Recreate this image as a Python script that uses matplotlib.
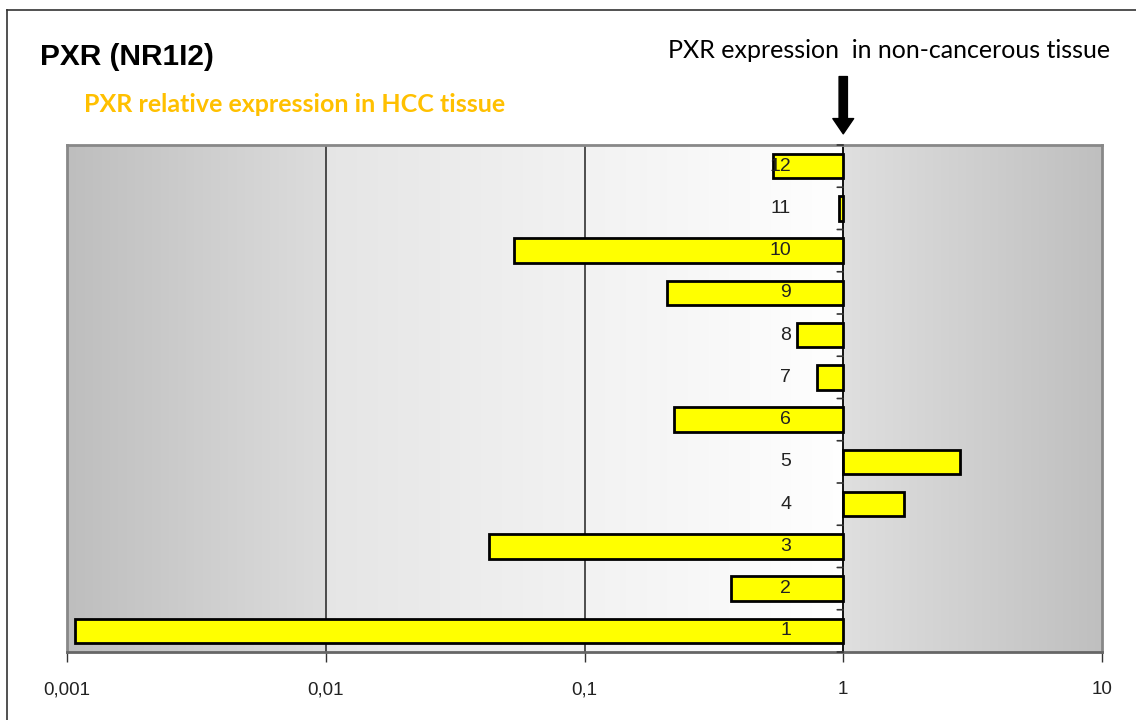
import numpy as np
import matplotlib
matplotlib.use("Agg")
import matplotlib.pyplot as plt

# Data
samples = ["1", "2", "3", "4", "5", "6", "7", "8", "9", "10", "11", "12"]
rel_expr = [0.00107, 0.369, 0.0428, 1.72, 2.83, 0.222, 0.794, 0.664, 0.209, 0.0535, 0.965, 0.536]
xticks = [0.001, 0.01, 0.1, 1, 10]
xtick_labels = ["0,001", "0,01", "0,1", "1", "10"]
title = "PXR (NR1I2)"
subtitle = "PXR relative expression in HCC tissue"
ref_label = "PXR expression  in non-cancerous tissue"

W, H = 1136, 720
fig = plt.figure(figsize=(W / 100, H / 100), dpi=100)
fig.patch.set_facecolor("white")

# outer frame (left and top lines)
fig.add_artist(plt.Line2D([7 / W, 7 / W], [0, 1 - 10 / H], color="#333333", lw=1.2))
fig.add_artist(plt.Line2D([7 / W, 1.0], [1 - 10 / H, 1 - 10 / H], color="#333333", lw=1.2))

ax = fig.add_axes([67 / W, 1 - 652 / H, (1102 - 67) / W, (652 - 145) / H])
ax.set_xscale("log")
ax.set_xlim(0.001, 10)
ax.set_ylim(-0.5, len(samples) - 0.5)

# background gradient in axes coordinates
n = 1000
t = np.linspace(0, 1, n)
g = np.empty(n)
s1 = t < 0.25
s2 = (t >= 0.25) & (t < 0.75)
s3 = t >= 0.75
g[s1] = 0.745 + (0.865 - 0.745) * (t[s1] / 0.25)
g[s2] = 0.90 + (0.998 - 0.90) * ((t[s2] - 0.25) / 0.5)
g[s3] = 0.875 + (0.75 - 0.875) * ((t[s3] - 0.75) / 0.25)
img = np.dstack([g, g, g])[0][None, :, :]
img = np.repeat(img, 2, axis=0)
ax.imshow(img, extent=[0, 1, 0, 1], transform=ax.transAxes, aspect="auto",
          zorder=0, interpolation="bilinear")

# gridlines
for xv in [0.01, 0.1]:
    ax.axvline(xv, color="#222222", lw=1.1, zorder=0.5)

y = np.arange(len(samples))
vals = np.array(rel_expr)
ax.barh(y, vals - 1, left=1, height=0.58, color="#FFFF00", edgecolor="black",
        linewidth=2, zorder=2)

for side in ["top", "right", "left", "bottom"]:
    ax.spines[side].set_color("#888888")
    ax.spines[side].set_linewidth(2)
ax.spines["bottom"].set_color("#666666")
ax.axvline(1, color="black", lw=1.3, zorder=1.5)

ax.yaxis.set_ticks_position("none")
ax.set_yticks([])
for yi, lab in zip(y, samples):
    ax.annotate(lab, xy=(1, yi), xytext=(-52, 0), textcoords="offset pixels",
                ha="right", va="center", fontsize=14, color="#222222",
                family="Liberation Sans", zorder=5)
for b in np.arange(-0.5, len(samples) - 0.4, 1.0):
    ax.annotate("", xy=(1, b), xytext=(-6, 0), textcoords="offset pixels",
                arrowprops=dict(arrowstyle="-", color="#333333", lw=1.2,
                                shrinkA=0, shrinkB=0), zorder=3)

ax.set_xticks(xticks)
ax.set_xticklabels(xtick_labels, fontsize=13.5, family="Liberation Sans", color="#222222")
ax.xaxis.set_minor_locator(matplotlib.ticker.NullLocator())
ax.tick_params(axis="x", direction="out", length=7, width=1, color="#333333", pad=14)

# Texts
fig.text(40 / W, 1 - 57 / H, title, fontsize=21.5, fontweight="bold",
         family="Liberation Sans", ha="left", va="center", color="black")
fig.text(84 / W, 1 - 104 / H, subtitle, fontsize=18, fontweight="bold",
         family="Lato", ha="left", va="center", color="#FFC000")
fig.text(1110 / W, 1 - 50 / H, ref_label, fontsize=18,
         family="Lato", ha="right", va="center", color="black")

# arrow pointing to x=1
ax.annotate("", xy=(1, 1.022), xycoords=("data", "axes fraction"),
            xytext=(1, 1.135), textcoords=("data", "axes fraction"),
            arrowprops=dict(width=6, headwidth=15, headlength=11,
                            color="black", shrink=0),
            annotation_clip=False)

fig.savefig("out.png", dpi=100)
